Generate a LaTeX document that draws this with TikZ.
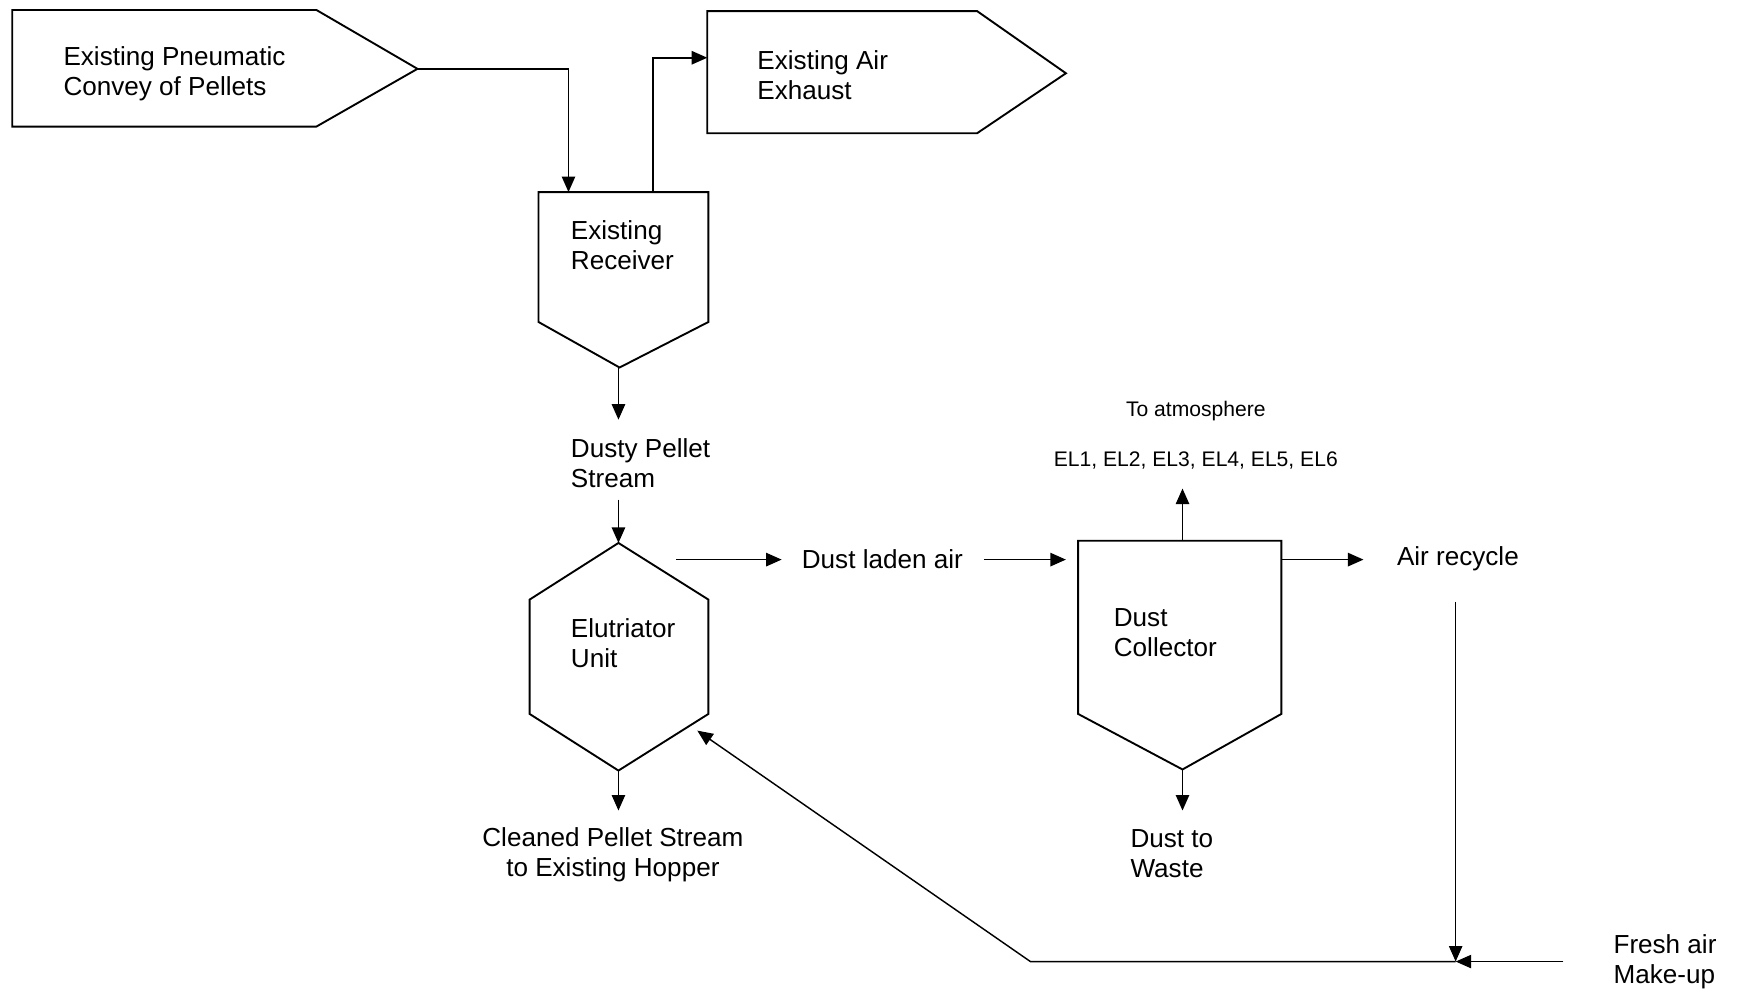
\documentclass[tikz,border=0pt]{standalone}
\usepackage{fontspec}
\setmainfont{Liberation Sans}
\usetikzlibrary{arrows.meta}
\begin{document}
\begin{tikzpicture}[x=1pt,y=-1pt,
  outline/.style={line width=1.7pt, line join=miter},
  arr/.style={line width=1.5pt, -{Triangle[length=14pt,width=12pt]}},
  thinarr/.style={line width=1.3pt, -{Triangle[length=14pt,width=12pt]}},
  txt/.style={inner sep=0pt, align=left, anchor=west, font=\fontsize{23.5}{27}\selectfont},
  ctxt/.style={inner sep=0pt, align=center, font=\fontsize{23.5}{27}\selectfont},
  small/.style={inner sep=0pt, align=center, font=\fontsize{19}{22}\selectfont}]
\useasboundingbox (0,0) rectangle (1568,893);
\fill[white] (0,0) rectangle (1568,893);

% Existing pneumatic convey (pentagon)
\draw[outline] (11,9) -- (285,9) -- (376,62) -- (285,114) -- (11,114) -- cycle;
\coordinate (convtip) at (376,62);
\node[txt] (conv) at (57,66.5) {Existing Pneumatic\\Convey of Pellets};

% Existing air exhaust (pentagon)
\draw[outline] (637,10) -- (880,10) -- (960,66) -- (880,120) -- (637,120) -- cycle;
\coordinate (exhin) at (637,52);
\node[txt] (exh) at (682,68) {Existing Air\\Exhaust};

% Existing receiver
\draw[outline] (485,173) -- (638,173) -- (638,290) -- (558,331) -- (485,290) -- cycle;
\coordinate (recin) at (512,173);
\coordinate (recout) at (588,173);
\coordinate (recbot) at (557,331);
\node[txt] (rec) at (514,221) {Existing\\Receiver};

% Dusty pellet stream
\coordinate (dustyin) at (557,378);
\coordinate (dustyout) at (557,450);
\node[txt] (dusty) at (514,417) {Dusty Pellet\\Stream};

% Elutriator hexagon
\draw[outline] (557,489) -- (638,540) -- (638,643) -- (557,694) -- (477,643) -- (477,540) -- cycle;
\coordinate (hextop) at (557,489);
\coordinate (hexbot) at (557,694);
\coordinate (hexright) at (609,504);
\coordinate (hexin) at (628,658);
\node[txt] (elu) at (514,579.5) {Elutriator\\Unit};

% Cleaned pellet stream
\coordinate (cleanin) at (557,730);
\node[ctxt] (clean) at (552,769.5) {Cleaned Pellet Stream\\to Existing Hopper};

% Dust laden air
\coordinate (dlain) at (704,504);
\coordinate (dlaout) at (886,504);
\node[txt] (dla) at (722,503.5) {Dust laden air};

% Dust collector
\draw[outline] (971,487) -- (1154,487) -- (1154,643) -- (1065,693) -- (971,643) -- cycle;
\coordinate (colin) at (960,504);
\coordinate (coltop) at (1065,487);
\coordinate (colbot) at (1065,693);
\coordinate (colright) at (1154,504);
\node[txt] (col) at (1003,569.5) {Dust\\Collector};

% To atmosphere
\coordinate (atmin) at (1065,440);
\node[small] (el) at (1077,414.5) {EL1, EL2, EL3, EL4, EL5, EL6};
\node[small] (atm) at (1077,370.5) {To atmosphere};

% Dust to waste
\coordinate (wastein) at (1065,730);
\node[txt] (waste) at (1018,768.5) {Dust to\\Waste};

% Air recycle
\coordinate (recyin) at (1228,504);
\coordinate (recyout) at (1311,542);
\node[txt] (recy) at (1258,503.5) {Air recycle};

% Fresh air
\coordinate (junc) at (1311,866);
\coordinate (freshout) at (1408,866);
\coordinate (bend) at (928,866);
\node[txt] (fresh) at (1453,866) {Fresh air\\Make-up};

% Connectors
\draw[arr] (convtip) -| (recin);
\draw[arr] (recout) |- (exhin);
\draw[arr] (recbot) -- (dustyin);
\draw[arr] (dustyout) -- (hextop);
\draw[arr] (hexbot) -- (cleanin);
\draw[arr] (hexright) -- (dlain);
\draw[arr] (dlaout) -- (colin);
\draw[arr] (coltop) -- (atmin);
\draw[arr] (colbot) -- (wastein);
\draw[arr] (colright) -- (recyin);
\draw[thinarr] (recyout) -- (junc);
\draw[thinarr] (freshout) -- (junc);
\draw[thinarr] (junc) -- (bend) -- (hexin);
\end{tikzpicture}
\end{document}
